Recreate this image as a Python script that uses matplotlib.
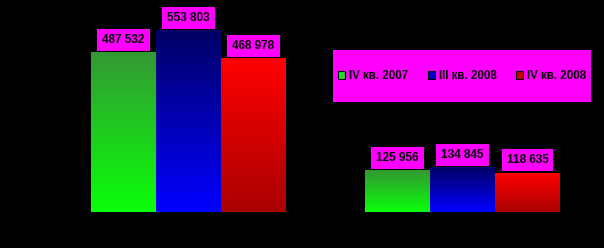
import numpy as np
import matplotlib.pyplot as plt
from matplotlib.patches import Patch, Rectangle
from matplotlib.colors import LinearSegmentedColormap

plt.rcParams['font.family'] = ['Liberation Sans', 'DejaVu Sans']

# данные
groups = [0, 1]
series = ['IV кв. 2007', 'III кв. 2008', 'IV кв. 2008']
values = [
    [487532, 125956],
    [553803, 134845],
    [468978, 118635],
]
labels = [
    ['487 532', '125 956'],
    ['553 803', '134 845'],
    ['468 978', '118 635'],
]
# градиент: (верх, низ)
grads = [('#339933', '#0aff0a'), ('#000066', '#0000ff'), ('#ff0000', '#aa0000')]
legcols = ['#22dd22', '#0000cc', '#cc0000']

fig = plt.figure(figsize=(6.04, 2.48), dpi=100, facecolor='black')
ax = fig.add_axes([0, 36 / 248, 1, 212 / 248])
ax.set_facecolor('black')
ax.set_xlim(-0.688, 1.516)
ax.set_ylim(0, 553803 * 212 / 181)
ax.axis('off')

w = 0.237
offs = [-w, 0, w]
for i in range(3):
    xs = np.array(groups) + offs[i]
    bars = ax.bar(xs, values[i], width=w, color='none', edgecolor='none')
    cmap = LinearSegmentedColormap.from_list('g%d' % i, [grads[i][1], grads[i][0]])
    grad = np.linspace(0, 1, 100).reshape(-1, 1)
    for b, lab in zip(bars, labels[i]):
        x0, y0 = b.get_x(), b.get_y()
        ax.imshow(grad, cmap=cmap, origin='lower', aspect='auto',
                  extent=[x0, x0 + b.get_width(), y0, y0 + b.get_height()],
                  interpolation='bicubic', zorder=2)
        ax.annotate(lab, (x0 + b.get_width() / 2, b.get_height()),
                    xytext=(0, 5), textcoords='offset points',
                    ha='center', va='bottom', fontsize=8.5, fontweight='bold',
                    color='black', zorder=4,
                    bbox=dict(boxstyle='square,pad=0.42', fc='#ff00ff', ec='none'))

# легенда
fig.patches.append(Rectangle((333 / 604, (248 - 102) / 248), 258 / 604, 52 / 248,
                             transform=fig.transFigure, facecolor='#ff00ff',
                             edgecolor='none', zorder=1))
handles = [Patch(facecolor=c, edgecolor='black', linewidth=0.8) for c in legcols]
leg = fig.legend(handles, series, loc='center', ncol=3,
                 bbox_to_anchor=((333 + 129) / 604, (248 - 76) / 248),
                 frameon=False, fontsize=8.3, handlelength=0.65, handleheight=0.65,
                 handletextpad=0.3, columnspacing=1.7, borderaxespad=0)
for t in leg.get_texts():
    t.set_fontweight('bold')
    t.set_color('black')

fig.savefig('out.png', dpi=100, facecolor='black')
